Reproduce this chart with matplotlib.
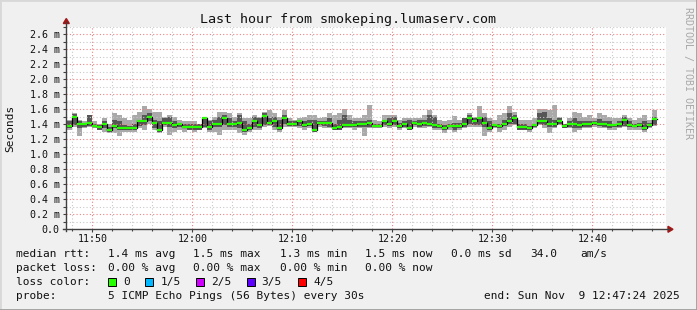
import numpy as np
import matplotlib.pyplot as plt
from matplotlib.patches import Polygon, Rectangle
from matplotlib.lines import Line2D

# --- data (values in ms) ---
start = "11:47:24"
end = "12:47:24"
first_step = "11:47:30"
step_s = 30

median = [1.38, 1.50, 1.40, 1.40, 1.42, 1.38, 1.36, 1.40, 1.32, 1.38,
          1.35, 1.35, 1.35, 1.35, 1.44, 1.44, 1.50, 1.42, 1.32, 1.42,
          1.42, 1.39, 1.40, 1.37, 1.36, 1.36, 1.37, 1.49, 1.36, 1.40,
          1.40, 1.48, 1.40, 1.40, 1.42, 1.32, 1.35, 1.44, 1.39, 1.51,
          1.42, 1.45, 1.35, 1.49, 1.40, 1.40, 1.44, 1.39, 1.41, 1.32,
          1.42, 1.42, 1.42, 1.35, 1.36, 1.39, 1.39, 1.39, 1.40, 1.40,
          1.42, 1.38, 1.38, 1.44, 1.41, 1.44, 1.38, 1.40, 1.35, 1.42,
          1.41, 1.42, 1.40, 1.39, 1.38, 1.35, 1.38, 1.38, 1.38, 1.40,
          1.48, 1.44, 1.48, 1.42, 1.35, 1.39, 1.38, 1.40, 1.45, 1.49,
          1.37, 1.37, 1.35, 1.39, 1.45, 1.44, 1.40, 1.41, 1.45, 1.38,
          1.41, 1.40, 1.39, 1.41, 1.40, 1.42, 1.40, 1.40, 1.39, 1.39,
          1.40, 1.46, 1.39, 1.38, 1.39, 1.35, 1.39, 1.47]

dark_hi = [1.44, 1.54, 1.44, 1.42, 1.52, 1.41, 1.39, 1.44, 1.37, 1.46,
           1.44, 1.39, 1.38, 1.41, 1.46, 1.52, 1.55, 1.46, 1.44, 1.48,
           1.50, 1.44, 1.41, 1.41, 1.41, 1.40, 1.41, 1.50, 1.44, 1.46,
           1.50, 1.52, 1.48, 1.44, 1.52, 1.44, 1.41, 1.50, 1.48, 1.55,
           1.48, 1.50, 1.46, 1.52, 1.44, 1.44, 1.46, 1.44, 1.46, 1.46,
           1.45, 1.45, 1.48, 1.41, 1.46, 1.52, 1.46, 1.44, 1.44, 1.44,
           1.46, 1.40, 1.40, 1.46, 1.48, 1.50, 1.42, 1.44, 1.46, 1.45,
           1.46, 1.46, 1.52, 1.50, 1.41, 1.39, 1.41, 1.42, 1.42, 1.48,
           1.52, 1.48, 1.50, 1.50, 1.44, 1.41, 1.41, 1.46, 1.55, 1.52,
           1.41, 1.40, 1.38, 1.41, 1.55, 1.57, 1.48, 1.46, 1.48, 1.40,
           1.45, 1.48, 1.44, 1.45, 1.44, 1.45, 1.47, 1.45, 1.44, 1.41,
           1.44, 1.50, 1.44, 1.40, 1.42, 1.44, 1.42, 1.50]

dark_lo = [1.35, 1.39, 1.35, 1.37, 1.38, 1.36, 1.32, 1.35, 1.30, 1.35,
           1.32, 1.32, 1.32, 1.32, 1.38, 1.39, 1.44, 1.35, 1.30, 1.39,
           1.37, 1.35, 1.36, 1.35, 1.33, 1.32, 1.33, 1.37, 1.32, 1.37,
           1.37, 1.39, 1.37, 1.37, 1.35, 1.30, 1.32, 1.37, 1.35, 1.39,
           1.39, 1.37, 1.32, 1.41, 1.38, 1.38, 1.38, 1.37, 1.38, 1.30,
           1.39, 1.38, 1.37, 1.32, 1.33, 1.37, 1.37, 1.36, 1.36, 1.37,
           1.37, 1.36, 1.36, 1.39, 1.38, 1.39, 1.35, 1.37, 1.32, 1.39,
           1.37, 1.38, 1.38, 1.35, 1.35, 1.32, 1.36, 1.32, 1.35, 1.37,
           1.40, 1.39, 1.39, 1.37, 1.32, 1.37, 1.35, 1.38, 1.41, 1.41,
           1.33, 1.33, 1.32, 1.36, 1.41, 1.39, 1.37, 1.37, 1.41, 1.35,
           1.37, 1.35, 1.35, 1.37, 1.37, 1.39, 1.38, 1.37, 1.35, 1.36,
           1.37, 1.38, 1.37, 1.36, 1.36, 1.32, 1.37, 1.39]

light_hi = [1.46, 1.55, 1.46, 1.44, 1.52, 1.44, 1.41, 1.48, 1.41, 1.55,
            1.52, 1.48, 1.46, 1.52, 1.57, 1.64, 1.61, 1.57, 1.57, 1.50,
            1.52, 1.50, 1.46, 1.44, 1.44, 1.44, 1.41, 1.50, 1.46, 1.50,
            1.57, 1.57, 1.55, 1.50, 1.55, 1.48, 1.48, 1.52, 1.50, 1.57,
            1.59, 1.55, 1.50, 1.59, 1.48, 1.46, 1.48, 1.50, 1.52, 1.52,
            1.48, 1.50, 1.55, 1.52, 1.55, 1.61, 1.52, 1.48, 1.48, 1.52,
            1.66, 1.46, 1.44, 1.52, 1.52, 1.52, 1.46, 1.48, 1.48, 1.48,
            1.48, 1.52, 1.59, 1.52, 1.46, 1.44, 1.46, 1.51, 1.46, 1.48,
            1.55, 1.50, 1.64, 1.55, 1.48, 1.46, 1.52, 1.55, 1.64, 1.57,
            1.46, 1.46, 1.46, 1.48, 1.61, 1.61, 1.59, 1.66, 1.50, 1.41,
            1.48, 1.57, 1.55, 1.50, 1.52, 1.48, 1.55, 1.52, 1.50, 1.48,
            1.48, 1.52, 1.48, 1.46, 1.48, 1.52, 1.46, 1.59]

light_lo = [1.33, 1.37, 1.25, 1.35, 1.37, 1.35, 1.32, 1.30, 1.29, 1.28,
            1.25, 1.30, 1.30, 1.30, 1.35, 1.33, 1.41, 1.32, 1.28, 1.37,
            1.26, 1.30, 1.32, 1.30, 1.32, 1.30, 1.32, 1.35, 1.30, 1.30,
            1.26, 1.32, 1.32, 1.32, 1.28, 1.26, 1.30, 1.32, 1.32, 1.37,
            1.38, 1.32, 1.30, 1.37, 1.36, 1.37, 1.35, 1.32, 1.35, 1.30,
            1.37, 1.35, 1.35, 1.32, 1.32, 1.35, 1.35, 1.33, 1.35, 1.24,
            1.35, 1.35, 1.35, 1.37, 1.35, 1.37, 1.32, 1.35, 1.32, 1.37,
            1.35, 1.35, 1.37, 1.32, 1.32, 1.28, 1.32, 1.30, 1.32, 1.35,
            1.37, 1.37, 1.37, 1.24, 1.30, 1.35, 1.30, 1.32, 1.37, 1.39,
            1.32, 1.32, 1.30, 1.35, 1.39, 1.35, 1.28, 1.35, 1.39, 1.35,
            1.35, 1.30, 1.32, 1.35, 1.35, 1.37, 1.35, 1.35, 1.32, 1.32,
            1.35, 1.37, 1.32, 1.33, 1.33, 1.30, 1.35, 1.38]

time_labels = ["11:50", "12:00", "12:10", "12:20", "12:30", "12:40"]
y_ticks = [0.0, 0.2, 0.4, 0.6, 0.8, 1.0, 1.2, 1.4, 1.6, 1.8, 2.0, 2.2, 2.4, 2.6]
y_max = 2.7

loss_labels = ["0", "1/5", "2/5", "3/5", "4/5"]
loss_colors = ["#26ff00", "#00b8ff", "#d000ff", "#5e00ff", "#ff0000"]

rtt_stats = ["1.4 ms avg", "1.5 ms max", "1.3 ms min", "1.5 ms now", "0.0 ms sd", "34.0", "am/s"]
loss_stats = ["0.00 % avg", "0.00 % max", "0.00 % min", "0.00 % now"]


def minutes(hms):
    parts = [int(p) for p in hms.split(":")]
    if len(parts) == 2:
        parts.append(0)
    return parts[0] * 60 + parts[1] + parts[2] / 60.0


t0 = minutes(start)
x_span = minutes(end) - t0
W, H = 697, 310
MONO = "DejaVu Sans Mono"

fig = plt.figure(figsize=(W / 100, H / 100), dpi=100, facecolor="#f0f0f0")


def fx(x):
    return x / W


def fy(y):
    return 1 - y / H


# plot area in pixels (left, top, right, bottom)
L, T, R, B = 66.3, 26.8, 666.3, 229.3
ax = fig.add_axes([fx(L), fy(B), fx(R) - fx(L), fy(T) - fy(B)])
ax.set_facecolor("white")

n = len(median)
x_left = minutes(first_step) - t0 + np.arange(n) * step_s / 60.0
w = step_s / 60.0

# smoke
ax.bar(x_left, np.array(light_hi) - np.array(light_lo), bottom=light_lo, width=w,
       align="edge", color="#a9a9a9", linewidth=0, zorder=1)
ax.bar(x_left, np.array(dark_hi) - np.array(dark_lo), bottom=dark_lo, width=w,
       align="edge", color="#565656", linewidth=0, zorder=1.1)

# median: black connectors + green dashes
xs = np.append(x_left, x_left[-1] + w)
ys = np.append(median, median[-1])
ax.step(xs, ys, where="post", color="black", lw=0.9, zorder=3)
ax.hlines(median, x_left, x_left + w, colors=loss_colors[0], lw=1.6, zorder=4)

ax.set_xlim(0, x_span)
ax.set_ylim(0, y_max)

major_x = [minutes(t) - t0 for t in time_labels]
minor_x = np.arange(minutes("11:48") - t0, x_span, 2.0)
ax.set_xticks(major_x)
ax.set_xticklabels(time_labels)
ax.set_xticks(minor_x, minor=True)
ax.set_yticks(y_ticks)
ax.set_yticklabels(["0.0"] + ["%.1f m" % v for v in y_ticks[1:]])
ax.set_yticks(np.arange(0.1, y_max + 0.01, 0.2), minor=True)

ax.grid(which="major", color="#f08080", linestyle=(0, (1, 2)), lw=0.8)
ax.grid(which="minor", color="#c8c8c8", linestyle=(0, (1, 2)), lw=0.8)
ax.set_axisbelow("line")

for s in ax.spines.values():
    s.set_visible(False)

ax.tick_params(axis="both", which="both", length=2.2, width=0.8, color="#404040",
               labelsize=7.2, labelcolor="#111111")
ax.tick_params(axis="y", pad=2.6)
ax.tick_params(axis="x", pad=1.2)
ax.tick_params(axis="x", which="minor", length=1.5)
for lab in ax.get_xticklabels() + ax.get_yticklabels():
    lab.set_fontfamily(MONO)

# axis lines and arrows
fig.add_artist(Line2D([fx(L), fx(L)], [fy(B + 2), fy(22)], color="#404040", lw=1))
fig.add_artist(Line2D([fx(L - 3), fx(669)], [fy(B), fy(B)], color="#404040", lw=1))
fig.add_artist(Polygon([(fx(L - 3), fy(23.5)), (fx(L + 3), fy(23.5)), (fx(L), fy(18.5))],
                       closed=True, color="#a01818", transform=fig.transFigure))
fig.add_artist(Polygon([(fx(668), fy(B - 3)), (fx(668), fy(B + 3)), (fx(673), fy(B))],
                       closed=True, color="#a01818", transform=fig.transFigure))

# title and labels
fig.text(fx(348.5), fy(19), "Last hour from smokeping.lumaserv.com", ha="center",
         va="center", family=MONO, fontsize=9.6, color="#111111")
fig.text(fx(10.5), fy((T + B) / 2), "Seconds", rotation=90, ha="center", va="center",
         family=MONO, fontsize=8, color="#111111")
fig.text(fx(688), fy(73), "RRDTOOL / TOBI OETIKER", rotation=270, ha="center",
         va="center", family=MONO, fontsize=7.2, color="#a8a8a8")


def txt(x, y, s, **kw):
    fig.text(fx(x), fy(y), s, va="center", family=MONO, fontsize=8, color="#111111", **kw)


rows = [254.3, 268.3, 282.3, 296.3]
col_x = [108, 193.3, 279.6, 365.3, 451.1, 530.2, 580]

txt(16.4, rows[0], "median rtt:")
for x, s in zip(col_x, rtt_stats):
    txt(x, rows[0], s)

txt(16.4, rows[1], "packet loss:")
for x, s in zip(col_x, loss_stats):
    txt(x, rows[1], s)

txt(16.4, rows[2], "loss color:")
box_x = [108, 145.3, 196, 246.7, 298.2]
for x, lab, c in zip(box_x, loss_labels, loss_colors):
    fig.add_artist(Rectangle((fx(x), fy(rows[2] + 4)), 8 / W, 8 / H, facecolor=c,
                             edgecolor="black", lw=0.7, transform=fig.transFigure))
    txt(x + 15, rows[2], lab)

txt(16.4, rows[3], "probe:")
txt(108, rows[3], "5 ICMP Echo Pings (56 Bytes) every 30s")
txt(680, rows[3], "end: Sun Nov  9 12:47:24 2025", ha="right")

# 3d-ish frame
fig.add_artist(Line2D([0, 0, 1], [0, 1, 1], color="#d8d8d8", lw=2, transform=fig.transFigure))
fig.add_artist(Line2D([0, 1, 1], [0, 0, 1], color="#9e9e9e", lw=2, transform=fig.transFigure))

fig.savefig("out.png", dpi=100, facecolor=fig.get_facecolor())
